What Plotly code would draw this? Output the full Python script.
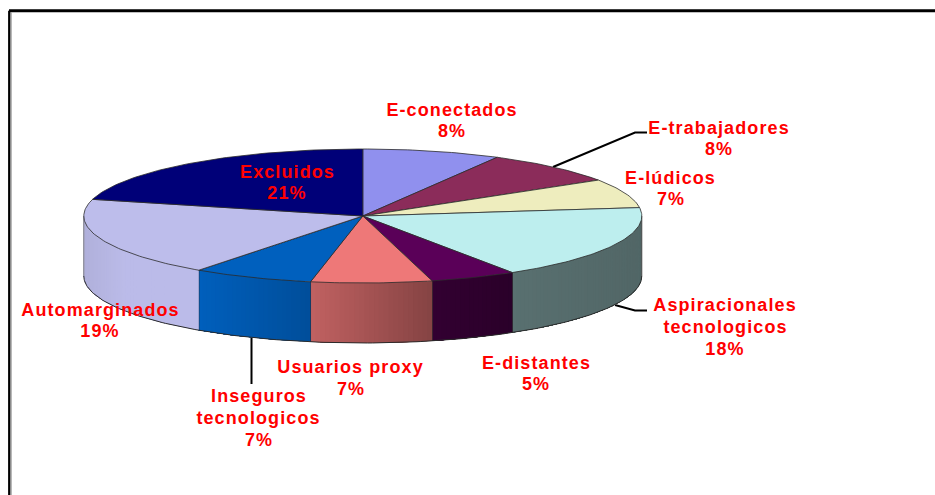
import math
import plotly.graph_objects as go

# Data (clockwise from 12 o'clock)
names = ["E-conectados", "E-trabajadores", "E-lúdicos", "Aspiracionales<br>tecnologicos", "E-distantes",
         "Usuarios proxy", "Inseguros<br>tecnologicos", "Automarginados", "Excluidos"]
values = [8, 8, 7, 18, 5, 7, 7, 19, 21]
top_colors = ["#9090EE", "#8B2C5A", "#EEEDBE", "#BDEEEE", "#5A0058", "#EE7878", "#0060BE", "#BDBDEB", "#000078"]

# Label placement (pixel frame of the page)
label_x = [451.5, 719, 670.5, 725, 536, 350.5, 258.5, 100, 287]
label_y = [120.5, 138.5, 188.5, 327, 373.5, 378, 418, 320.5, 182.5]

# Leader lines
leaders = [([553, 635, 647], [167, 132.5, 132.5]),
           ([615, 635, 647], [305, 310.5, 310.5]),
           ([251.5, 251.5], [338, 384])]

CX, CY, RX, RY, DEPTH = 362.8, 216.0, 279.0, 67.0, 60.0
SHADE_X = [84, 125, 199, 311, 432, 512, 642]
SHADE_K = [0.93, 0.99, 0.99, 0.81, 0.56, 0.47, 0.43]
LINE_STEP = 21.7


def shade(x):
    for i in range(len(SHADE_X) - 1):
        if x <= SHADE_X[i + 1]:
            t = (x - SHADE_X[i]) / (SHADE_X[i + 1] - SHADE_X[i])
            return SHADE_K[i] + t * (SHADE_K[i + 1] - SHADE_K[i])
    return SHADE_K[-1]


def darker(hex_color, k):
    r, g, b = (int(hex_color[i:i + 2], 16) for i in (1, 3, 5))
    return f"rgb({r * k:.0f},{g * k:.0f},{b * k:.0f})"


def px(theta):
    return CX + RX * math.sin(theta)


def py(theta, dz=0.0):
    return CY - RY * math.cos(theta) + dz


total = sum(values)
bounds = [0.0]
for v in values:
    bounds.append(bounds[-1] + v / total * 2 * math.pi)

fig = go.Figure()


def poly(xs, ys, fill, line=None, width=1.0):
    fig.add_trace(go.Scatter(x=xs, y=ys, mode="lines", fill="toself", fillcolor=fill,
                             line=dict(color=line or fill, width=width), hoverinfo="skip", showlegend=False))


def path(xs, ys, color, width):
    fig.add_trace(go.Scatter(x=xs, y=ys, mode="lines", line=dict(color=color, width=width),
                             hoverinfo="skip", showlegend=False))


LO, HI = math.pi / 2, 3 * math.pi / 2
EDGE = "#2b2b2b"

# Leaders go behind the pie
for lx, ly in leaders:
    path(lx, ly, "#000000", 2)

# Side wall: each strip runs to the far end of its slice, and the next one paints over it,
# so no seams show between strips
for i, col in enumerate(top_colors):
    a, b = max(bounds[i], LO), min(bounds[i + 1], HI)
    if b <= a:
        continue
    n = max(2, int((b - a) / math.radians(1.0)))
    for j in range(n):
        ts = [a + (b - a) * k / n for k in range(j, n + 1)]
        c = darker(col, shade(px(ts[0] + (b - a) / n / 2)))
        xs = [px(t) for t in ts] + [px(t) for t in reversed(ts)] + [px(ts[0])]
        ys = [py(t) for t in ts] + [py(t, DEPTH) for t in reversed(ts)] + [py(ts[0])]
        poly(xs, ys, c, c, 0)
    if bounds[i + 1] < HI:
        path([px(b), px(b)], [py(b), py(b, DEPTH)], EDGE, 1)

# Wall outline
arc = [LO + (HI - LO) * k / 180 for k in range(181)]
path([px(t) for t in arc], [py(t, DEPTH) for t in arc], EDGE, 1)
path([px(LO), px(LO)], [py(LO), py(LO, DEPTH)], "#555555", 1)
path([px(HI), px(HI)], [py(HI), py(HI, DEPTH)], "#888888", 1)

# Top face
for i, col in enumerate(top_colors):
    a, b = bounds[i], bounds[i + 1]
    n = max(8, int((b - a) / math.radians(1)))
    ts = [a + (b - a) * k / n for k in range(n + 1)]
    poly([CX] + [px(t) for t in ts] + [CX], [CY] + [py(t) for t in ts] + [CY], col, EDGE, 0.8)

# Frame
path([9.3, 9.3], [495, 10.8], "#000000", 2.4)
path([9, 935], [10.8, 10.8], "#000000", 3)
path([11.1, 11.1], [495, 12.3], "#9a9a9a", 1.2)

# Labels: one annotation per line, because the reference's line step is tighter than Plotly's
annotations = []
for name, v, x, y in zip(names, values, label_x, label_y):
    lines = name.split("<br>") + [f"{v}%"]
    first = y - LINE_STEP * (len(lines) - 1) / 2
    for k, line in enumerate(lines):
        annotations.append(dict(x=x, y=first + k * LINE_STEP, xref="x", yref="y", text=f"<b>{line}</b>",
                                showarrow=False, xanchor="center", yanchor="middle", align="center",
                                font=dict(family="Liberation Sans", size=18, color="#FF0000")))

fig.update_layout(width=935, height=495, margin=dict(l=0, r=0, t=0, b=0),
                  paper_bgcolor="white", plot_bgcolor="white", showlegend=False,
                  xaxis=dict(range=[0, 935], visible=False, fixedrange=True),
                  yaxis=dict(range=[495, 0], visible=False, fixedrange=True),
                  annotations=annotations)

fig.write_html("out.html", config=dict(displayModeBar=False),
               post_script="document.body.style.margin='0';document.body.style.overflow='hidden';"
                           "document.querySelectorAll('.annotation-text').forEach(function(t){"
                           "t.style.letterSpacing='1.1px';});")
